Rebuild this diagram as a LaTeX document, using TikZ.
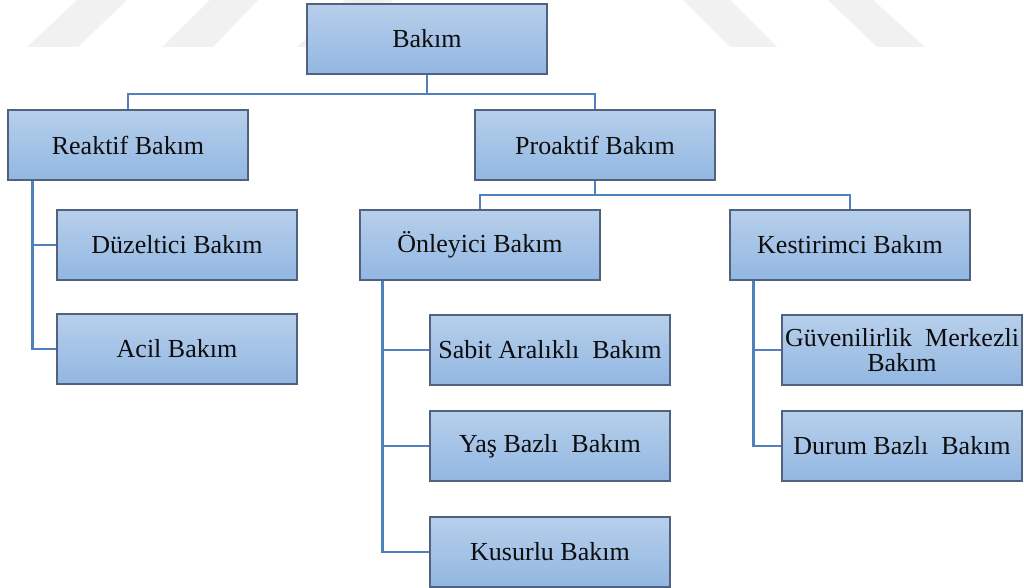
\documentclass[tikz,border=0pt]{standalone}
\usepackage{fontspec}
\setmainfont{Liberation Serif}
\usetikzlibrary{calc}
\definecolor{boxtop}{RGB}{183,207,235}
\definecolor{boxbot}{RGB}{146,183,226}
\definecolor{boxline}{RGB}{80,98,126}
\definecolor{linkblue}{RGB}{79,129,189}
\definecolor{markgray}{RGB}{241,241,241}

\begin{document}
\begin{tikzpicture}[x=1pt,y=-1pt,
  card/.style={draw=boxline, line width=1.1pt, top color=boxtop, bottom color=boxbot,
    minimum width=240pt, minimum height=70pt, inner sep=2pt, align=center,
    font=\fontsize{26}{25}\selectfont, text=black!95},
  link/.style={draw=linkblue, line width=2.4pt}]
\useasboundingbox (0,0) rectangle (1024,588);

% light background marks
\fill[markgray] (27,47) -- (78,47) -- (127,0) -- (77,0) -- cycle;
\fill[markgray] (162,47) -- (213,47) -- (258,0) -- (210,0) -- cycle;
\fill[markgray] (297,47) -- (348,47) -- (393,0) -- (345,0) -- cycle;
\fill[markgray] (683,0) -- (730,0) -- (777,47) -- (730,47) -- cycle;
\fill[markgray] (828,0) -- (873,0) -- (925,47) -- (877,47) -- cycle;

% branching points
\coordinate (bsplit) at (427,94);
\coordinate (psplit) at (595,195);

% boxes
\node[card] (bakim)     at (427,39)  {Bakım};
\node[card] (reaktif)   at (128,145) {Reaktif Bakım};
\node[card] (proaktif)  at (595,145) {Proaktif Bakım};
\node[card] (duzeltici) at (177,245) {Düzeltici Bakım};
\node[card] (acil)      at (177,349) {Acil Bakım};
\node[card] (onleyici)  at (480,245) {Önleyici Bakım};
\node[card] (kestirim)  at (850,245) {Kestirimci Bakım};
\node[card] (sabit)     at (550,350) {Sabit Aralıklı\ \ Bakım};
\node[card] (yas)       at (550,446) {Yaş Bazlı\ \ Bakım};
\node[card] (kusurlu)   at (550,552) {Kusurlu Bakım};
\node[card] (guven)     at (902,350) {Güvenilirlik\ \ Merkezli\\Bakım};
\node[card] (durum)     at (902,446) {Durum Bazlı\ \ Bakım};

% connectors
\draw[link] (bakim.south) -- (bsplit) -| (reaktif.north);
\draw[link] (bsplit) -| (proaktif.north);
\draw[link] (proaktif.south) -- (psplit) -| (onleyici.north);
\draw[link] (psplit) -| (kestirim.north);
\coordinate (rtrunk) at ($(reaktif.south west)+(25,0)$);
\draw[link] (rtrunk) |- (duzeltici.west);
\draw[link] (rtrunk) |- (acil.west);
\coordinate (otrunk) at ($(onleyici.south west)+(23,0)$);
\draw[link] (otrunk) |- (sabit.west);
\draw[link] (otrunk) |- (yas.west);
\draw[link] (otrunk) |- (kusurlu.west);
\coordinate (ktrunk) at ($(kestirim.south west)+(24,0)$);
\draw[link] (ktrunk) |- (guven.west);
\draw[link] (ktrunk) |- (durum.west);
\end{tikzpicture}
\end{document}
